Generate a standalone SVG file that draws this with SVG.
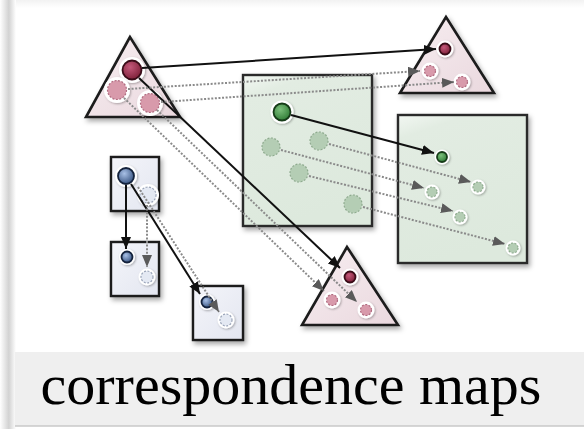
<svg xmlns="http://www.w3.org/2000/svg" width="584" height="429" viewBox="0 0 584 429">
  <defs>
    <linearGradient id="frameLeft" x1="0" y1="0" x2="1" y2="0">
      <stop offset="0" stop-color="#ffffff"/>
      <stop offset="0.55" stop-color="#d2d2d2"/>
      <stop offset="1" stop-color="#ffffff"/>
    </linearGradient>
    <linearGradient id="frameTop" x1="0" y1="0" x2="0" y2="1">
      <stop offset="0" stop-color="#f2f2f2"/>
      <stop offset="1" stop-color="#ffffff"/>
    </linearGradient>
    <linearGradient id="pinkFill" x1="0" y1="0" x2="1" y2="1">
      <stop offset="0" stop-color="#f7eef1"/>
      <stop offset="1" stop-color="#ead8de"/>
    </linearGradient>
    <linearGradient id="greenFill" x1="0" y1="0" x2="0.3" y2="1">
      <stop offset="0" stop-color="#f2f7f2"/>
      <stop offset="0.15" stop-color="#e2ece2"/>
      <stop offset="1" stop-color="#dde9dd"/>
    </linearGradient>
    <linearGradient id="blueFill" x1="0" y1="0" x2="1" y2="1">
      <stop offset="0" stop-color="#f4f5fa"/>
      <stop offset="1" stop-color="#e3e6f0"/>
    </linearGradient>
    <radialGradient id="redDot" cx="0.4" cy="0.35" r="0.7">
      <stop offset="0" stop-color="#c4587a"/>
      <stop offset="1" stop-color="#7a1e36"/>
    </radialGradient>
    <radialGradient id="greenDot" cx="0.4" cy="0.35" r="0.7">
      <stop offset="0" stop-color="#7cc07c"/>
      <stop offset="1" stop-color="#2e7a34"/>
    </radialGradient>
    <radialGradient id="blueDot" cx="0.4" cy="0.35" r="0.7">
      <stop offset="0" stop-color="#a8c0e6"/>
      <stop offset="1" stop-color="#34507e"/>
    </radialGradient>
    <filter id="shadow" x="-20%" y="-20%" width="140%" height="140%">
      <feDropShadow dx="2" dy="3" stdDeviation="2.5" flood-color="#000" flood-opacity="0.35"/>
    </filter>
    <filter id="halo" x="-50%" y="-50%" width="200%" height="200%">
      <feDropShadow dx="1" dy="1" stdDeviation="1.2" flood-color="#000" flood-opacity="0.3"/>
    </filter>
    <marker id="headSolid" markerUnits="userSpaceOnUse" markerWidth="14" markerHeight="12" refX="12" refY="5" orient="auto">
      <path d="M0,0 L12,5 L0,10 Z" fill="#111"/>
    </marker>
    <marker id="headDashed" markerUnits="userSpaceOnUse" markerWidth="14" markerHeight="12" refX="12" refY="5" orient="auto">
      <path d="M0,0 L12,5 L0,10 Z" fill="#5a5a5a"/>
    </marker>
    <style>
      .tri { fill: url(#pinkFill); stroke: #1c1c1c; stroke-width: 2.6; stroke-linejoin: miter; filter: url(#shadow); }
      .sqG { fill: url(#greenFill); stroke: #2a2a2a; stroke-width: 2.4; filter: url(#shadow); }
      .sqB { fill: url(#blueFill); stroke: #1c1c1c; stroke-width: 2.4; filter: url(#shadow); }
      .ring { fill: #ffffff; filter: url(#halo); }
      .red { fill: url(#redDot); stroke: #3a0c18; stroke-width: 1.8; }
      .pink { fill: #d89aab; stroke: #b06c80; stroke-width: 1.2; stroke-dasharray: 2 1.5; }
      .green { fill: url(#greenDot); stroke: #163c18; stroke-width: 1.8; }
      .paleG { fill: #b4cdb4; stroke: #8eaa8e; stroke-width: 1.2; stroke-dasharray: 2 1.5; }
      .blue { fill: url(#blueDot); stroke: #14223c; stroke-width: 1.8; }
      .paleB { fill: #e4e9f3; stroke: #9aa4b8; stroke-width: 1.2; stroke-dasharray: 2 1.5; }
      .solid { fill: none; stroke: #111; stroke-width: 2; marker-end: url(#headSolid); }
      .dashed { fill: none; stroke: #8a8a8a; stroke-width: 2; stroke-dasharray: 2 1.6; marker-end: url(#headDashed); }
      .caption { font-family: "Liberation Serif", "Times New Roman", serif; font-size: 58px; fill: #000; }
    </style>
  </defs>

  <!-- page and frame -->
  <rect x="0" y="0" width="584" height="429" fill="#ffffff"/>
  <rect x="0" y="0" width="584" height="8" fill="url(#frameTop)"/>
  <rect x="0" y="0" width="16" height="429" fill="url(#frameLeft)"/>
  <rect x="15" y="352" width="569" height="74" fill="#efefef"/>
  <line x1="15" y1="426" x2="584" y2="426" stroke="#c8c8c8" stroke-width="1.5"/>

  <!-- top-left triangle -->
  <g id="triTopLeft">
    <polygon class="tri" points="130,37 86,117 180,117"/>
    <circle class="ring" cx="132" cy="70" r="13"/>
    <circle class="red" cx="132" cy="70" r="9.5"/>
    <circle class="ring" cx="117" cy="90" r="13"/>
    <circle class="pink" cx="117" cy="90" r="9.5"/>
    <circle class="ring" cx="150" cy="103" r="13"/>
    <circle class="pink" cx="150" cy="103" r="9.5"/>
  </g>

  <!-- top-right triangle -->
  <g id="triTopRight">
    <polygon class="tri" points="446,17 400,93 494,93"/>
    <circle class="ring" cx="445" cy="49" r="8.5"/>
    <circle class="red" cx="445" cy="49" r="5.5"/>
    <circle class="ring" cx="430" cy="71" r="8.5"/>
    <circle class="pink" cx="430" cy="71" r="5.5"/>
    <circle class="ring" cx="462" cy="82" r="8.5"/>
    <circle class="pink" cx="462" cy="82" r="5.5"/>
  </g>

  <!-- bottom triangle -->
  <g id="triBottom">
    <polygon class="tri" points="347,247 302,325 398,325"/>
    <circle class="ring" cx="350" cy="277" r="8.5"/>
    <circle class="red" cx="350" cy="277" r="5.5"/>
    <circle class="ring" cx="332" cy="300" r="8.5"/>
    <circle class="pink" cx="332" cy="300" r="5.5"/>
    <circle class="ring" cx="366" cy="310" r="8.5"/>
    <circle class="pink" cx="366" cy="310" r="5.5"/>
  </g>

  <!-- large green square -->
  <g id="greenLarge">
    <rect class="sqG" x="243" y="75" width="129" height="151"/>
    <circle class="ring" cx="282" cy="112" r="11.5"/>
    <circle class="green" cx="282" cy="112" r="8.5"/>
    <circle class="paleG" cx="319" cy="141" r="9"/>
    <circle class="paleG" cx="271" cy="147" r="9"/>
    <circle class="paleG" cx="299" cy="173" r="9"/>
    <circle class="paleG" cx="353" cy="204" r="9"/>
  </g>

  <!-- small green square -->
  <g id="greenSmall">
    <rect class="sqG" x="398" y="115" width="129" height="148"/>
    <circle class="ring" cx="442" cy="157" r="7.5"/>
    <circle class="green" cx="442" cy="157" r="5"/>
    <circle class="ring" cx="478" cy="187" r="7.5"/>
    <circle class="paleG" cx="478" cy="187" r="5"/>
    <circle class="ring" cx="432" cy="192" r="7.5"/>
    <circle class="paleG" cx="432" cy="192" r="5"/>
    <circle class="ring" cx="460" cy="217" r="7.5"/>
    <circle class="paleG" cx="460" cy="217" r="5"/>
    <circle class="ring" cx="513" cy="248" r="7.5"/>
    <circle class="paleG" cx="513" cy="248" r="5"/>
  </g>

  <!-- blue boxes -->
  <g id="blueTop">
    <rect class="sqB" x="111" y="157" width="48" height="54"/>
    <circle class="ring" cx="126" cy="176" r="11"/>
    <circle class="blue" cx="126" cy="176" r="8"/>
    <circle class="ring" cx="148" cy="195" r="11"/>
    <circle class="paleB" cx="148" cy="195" r="8"/>
  </g>
  <g id="blueMiddle">
    <rect class="sqB" x="111" y="242" width="48" height="54"/>
    <circle class="ring" cx="127" cy="257" r="8"/>
    <circle class="blue" cx="127" cy="257" r="5.5"/>
    <circle class="ring" cx="147" cy="277" r="8.5"/>
    <circle class="paleB" cx="147" cy="277" r="6"/>
  </g>
  <g id="blueBottom">
    <rect class="sqB" x="193" y="286" width="50" height="54"/>
    <circle class="ring" cx="207" cy="302" r="8"/>
    <circle class="blue" cx="207" cy="302" r="5.5"/>
    <circle class="ring" cx="226" cy="320" r="8.5"/>
    <circle class="paleB" cx="226" cy="320" r="6"/>
  </g>

  <!-- correspondence connectors -->
  <g id="connectors">
    <line class="solid" x1="142" y1="68" x2="436" y2="49"/>
    <line class="solid" x1="139" y1="78" x2="340" y2="268"/>
    <line class="solid" x1="291" y1="115" x2="434" y2="153"/>
    <line class="solid" x1="126" y1="185" x2="126" y2="249"/>
    <line class="solid" x1="131" y1="184" x2="200" y2="294"/>

    <line class="dashed" x1="128" y1="89" x2="420" y2="71"/>
    <line class="dashed" x1="161" y1="102" x2="454" y2="82"/>
    <line class="dashed" x1="124" y1="98" x2="324" y2="291"/>
    <line class="dashed" x1="157" y1="110" x2="357" y2="302"/>
    <line class="dashed" x1="329" y1="144" x2="471" y2="182"/>
    <line class="dashed" x1="281" y1="150" x2="424" y2="188"/>
    <line class="dashed" x1="309" y1="176" x2="453" y2="211"/>
    <line class="dashed" x1="363" y1="207" x2="505" y2="244"/>
    <line class="dashed" x1="147" y1="205" x2="147" y2="267"/>
    <line class="dashed" x1="138" y1="187" x2="219" y2="312"/>
  </g>

  <!-- caption -->
  <text class="caption" x="291" y="404" text-anchor="middle">correspondence maps</text>
</svg>
